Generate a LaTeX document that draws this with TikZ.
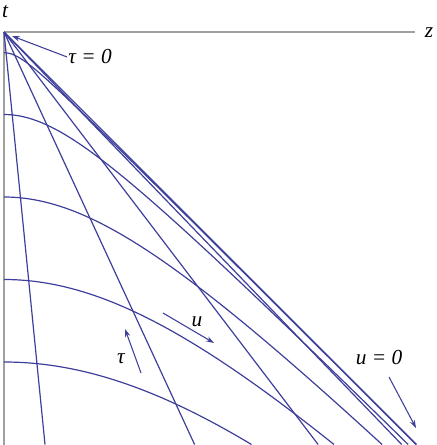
\documentclass[tikz,border=0pt]{standalone}
\usepackage{fontspec}
\setmainfont{Liberation Serif}
\usetikzlibrary{arrows.meta}
\definecolor{curveblue}{RGB}{62,62,155}
\definecolor{axisgray}{RGB}{160,160,160}
\tikzset{
	axisline/.style={draw=axisgray, line width=0.8pt},
	coordline/.style={draw=curveblue, line width=0.9pt},
	labelarrow/.style={draw=curveblue, line width=0.8pt, -{Stealth[length=6pt,width=4pt]}},
	lbl/.style={inner sep=0.75pt, font=\fontsize{16}{18}\selectfont\itshape},
}

\begin{document}
\begin{tikzpicture}[x=0.75pt,y=0.75pt,yscale=-1,xscale=1]
	\useasboundingbox (0,0) rectangle (436,445);

	% Axes
	\coordinate (O) at (4,32);
	\coordinate (zend) at (415,32);
	\coordinate (tend) at (4,445);
	\draw [axisline] (O) -- (zend);
	\draw [axisline] (O) -- (tend);
	% Text Node
	\node [lbl] (tlbl) at (5,12) {t};
	% Text Node
	\node [lbl] (zlbl) at (429,33) {z};

	\begin{scope}[shift={(4,32)},scale=82.5]
		% Rays u = const
		\foreach \u in {0.1,0.5,1,2}
			\draw [coordline] (0,0) -- ({5*tanh(\u)},5);
		\draw [coordline] (0,0) -- (5,5);
		% Hyperbolas tau = const
		\foreach \T in {0.25,1,2,3,4}
			\draw [coordline] plot [domain=0:{sqrt(25-\T*\T)},samples=60,smooth] (\x,{sqrt(\T*\T+\x*\x)});
	\end{scope}

	% Text Node
	\node [lbl] (tau0) at (90,57) {τ = 0};
	\coordinate (tau0tip) at (12,36);
	% Connection
	\draw [labelarrow] (tau0.west) -- (tau0tip);
	% Text Node
	\node [lbl] (u0) at (379,358) {u = 0};
	\coordinate (u0tail) at (389,377);
	\coordinate (u0tip) at (416,428);
	% Connection
	\draw [labelarrow] (u0tail) -- (u0tip);
	% Text Node
	\node [lbl] (ulbl) at (197,322) {u};
	\coordinate (utail) at (163,313);
	\coordinate (utip) at (214,343);
	% Connection
	\draw [labelarrow] (utail) -- (utip);
	% Text Node
	\node [lbl] (taulbl) at (121,359) {τ};
	\coordinate (tautail) at (141,373);
	\coordinate (tautip) at (125,329);
	% Connection
	\draw [labelarrow] (tautail) -- (tautip);

\end{tikzpicture}
\end{document}
